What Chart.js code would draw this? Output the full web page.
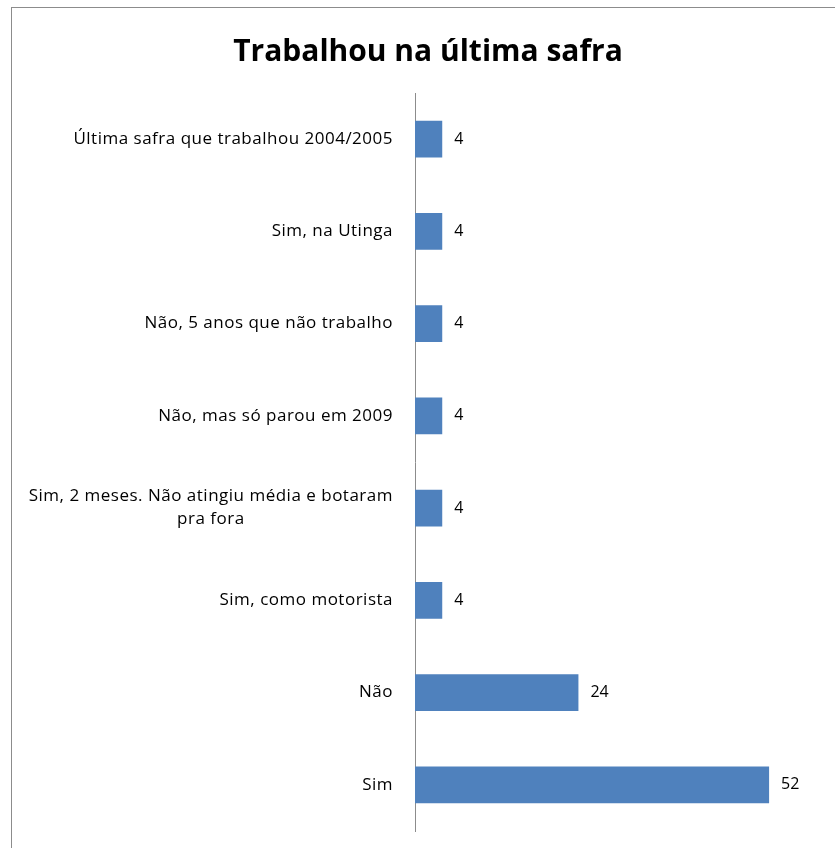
<!DOCTYPE html>
<html>
<head>
<meta charset="utf-8">
<script src="https://cdn.jsdelivr.net/npm/chart.js@4.4.0/dist/chart.umd.min.js"></script>
<style>
  body { margin: 0; background: #fff; overflow: hidden; }
  #caixa { position: absolute; left: 11px; top: 7px; width: 832px; height: 880px; border: 1px solid #8c8c8c; background: #fff; }
</style>
</head>
<body>
<div id="caixa"><canvas id="grafico" width="832" height="880"></canvas></div>
<script>
// dados do gráfico
const titulo = 'Trabalhou na última safra';
const categorias = [
  'Última safra que trabalhou 2004/2005',
  'Sim, na Utinga',
  'Não, 5 anos que não trabalho',
  'Não, mas só parou em 2009',
  ['Sim, 2 meses. Não atingiu média e botaram', 'pra fora'],
  'Sim, como motorista',
  'Não',
  'Sim'
];
const valores = [4, 4, 4, 4, 4, 4, 24, 52];
const fonte = '"Open Sans", Lato, sans-serif';

// escreve os valores e as categorias (linhas centradas entre si, bloco alinhado à direita)
const rotulos = {
  id: 'rotulos',
  afterDatasetsDraw(chart) {
    const ctx = chart.ctx;
    const meta = chart.getDatasetMeta(0);
    ctx.save();
    ctx.fillStyle = '#000';
    ctx.textBaseline = 'middle';
    ctx.textAlign = 'left';
    ctx.font = '16px ' + fonte;
    meta.data.forEach((barra, i) => {
      ctx.fillText(String(valores[i]), barra.x + 12, barra.y);
    });

    const eixo = chart.scales.y;
    ctx.font = '17px ' + fonte;
    ctx.letterSpacing = '0.5px';
    ctx.textAlign = 'center';
    categorias.forEach((cat, i) => {
      const linhas = Array.isArray(cat) ? cat : [cat];
      const larg = Math.max(...linhas.map(l => ctx.measureText(l).width));
      const cx = eixo.right - 22 - larg / 2;
      const y0 = eixo.getPixelForValue(i) - (linhas.length - 1) * 23 / 2;
      linhas.forEach((l, j) => ctx.fillText(l, cx, y0 + j * 23));
    });
    ctx.restore();
  }
};

new Chart(document.getElementById('grafico'), {
  type: 'bar',
  data: {
    labels: categorias,
    datasets: [{
      data: valores,
      backgroundColor: '#4f81bd',
      borderWidth: 0,
      categoryPercentage: 1,
      barPercentage: 0.4
    }]
  },
  options: {
    indexAxis: 'y',
    responsive: false,
    animation: false,
    layout: { padding: { left: 0, right: 0, top: 0, bottom: 57 } },
    plugins: {
      legend: { display: false },
      tooltip: { enabled: false },
      title: {
        display: true,
        text: titulo,
        color: '#000',
        font: { family: fonte, size: 30, weight: 'bold', lineHeight: 1.2 },
        padding: { top: 26, bottom: 23 }
      }
    },
    scales: {
      x: { display: false, min: 0, max: 63 },
      y: {
        grid: { display: false },
        ticks: { display: false },
        border: { display: true, color: '#8c8c8c', width: 1 },
        afterFit(scale) { scale.width = 403; }
      }
    }
  },
  plugins: [rotulos]
});
</script>
</body>
</html>
